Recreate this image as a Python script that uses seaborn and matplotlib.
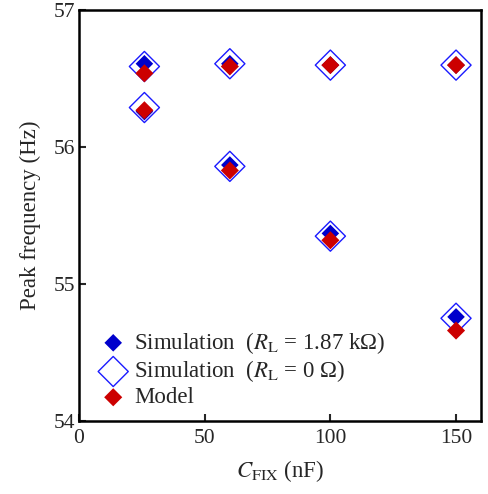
import matplotlib
matplotlib.use("Agg")
import matplotlib.pyplot as plt
import seaborn as sns
import pandas as pd

# Data
c_fix = [26, 26, 60, 60, 100, 100, 150, 150]
sim_rl187 = [56.61, 56.26, 56.61, 55.87, 56.60, 55.37, 56.60, 54.76]
sim_rl0 = [56.59, 56.29, 56.61, 55.86, 56.60, 55.35, 56.60, 54.75]
model = [56.54, 56.27, 56.59, 55.83, 56.60, 55.32, 56.60, 54.66]

x_ticks = [0, 50, 100, 150]
y_ticks = [54, 55, 56, 57]

sns.set_style("white")
plt.rcParams['font.family'] = ['Liberation Serif', 'DejaVu Serif']
plt.rcParams['mathtext.fontset'] = 'stix'

df = pd.DataFrame({"c": c_fix, "s187": sim_rl187, "s0": sim_rl0, "m": model})

fig = plt.figure(figsize=(4.88, 4.94), dpi=100)
ax = fig.add_axes([0.162, 0.148, 0.824, 0.831])

blue = '#0000cc'
open_blue = '#1a1aff'
red = '#cc0000'

sns.scatterplot(data=df, x="c", y="s0", ax=ax, marker='D', s=235,
                facecolor='none', edgecolor=open_blue, linewidth=1.0, zorder=3,
                label='Simulation  ($R_{\\mathrm{L}}$ = 0 Ω)')
sns.scatterplot(data=df, x="c", y="s187", ax=ax, marker='D', s=80,
                color=blue, edgecolor='none', linewidth=0, zorder=4,
                label='Simulation  ($R_{\\mathrm{L}}$ = 1.87 kΩ)')
sns.scatterplot(data=df, x="c", y="m", ax=ax, marker='D', s=85,
                color=red, edgecolor='none', linewidth=0, zorder=5,
                label='Model')

ax.set_xlim(0, 160)
ax.set_ylim(54, 57)
ax.set_xticks(x_ticks)
ax.set_yticks(y_ticks)
ax.tick_params(axis='both', direction='in', length=5, width=1.5,
               labelsize=15.5, top=False, right=False, bottom=True, left=True)
ax.tick_params(axis='x', pad=6)
ax.tick_params(axis='y', pad=3)
for sp in ax.spines.values():
    sp.set_linewidth(1.8)
    sp.set_color('black')

ax.set_xlabel(r'$C_{\mathrm{FIX}}$ (nF)', fontsize=16.5, labelpad=7)
ax.set_ylabel('Peak frequency (Hz)', fontsize=16.5, labelpad=9)

handles, labels = ax.get_legend_handles_labels()
order = [1, 0, 2]
ax.legend([handles[i] for i in order], [labels[i] for i in order],
          loc='lower left', bbox_to_anchor=(0.008, 0.0), frameon=False,
          fontsize=16.5, handletextpad=0.12, labelspacing=0.12, borderaxespad=0.15,
          handlelength=1.6)

fig.savefig('out.png', dpi=100)
